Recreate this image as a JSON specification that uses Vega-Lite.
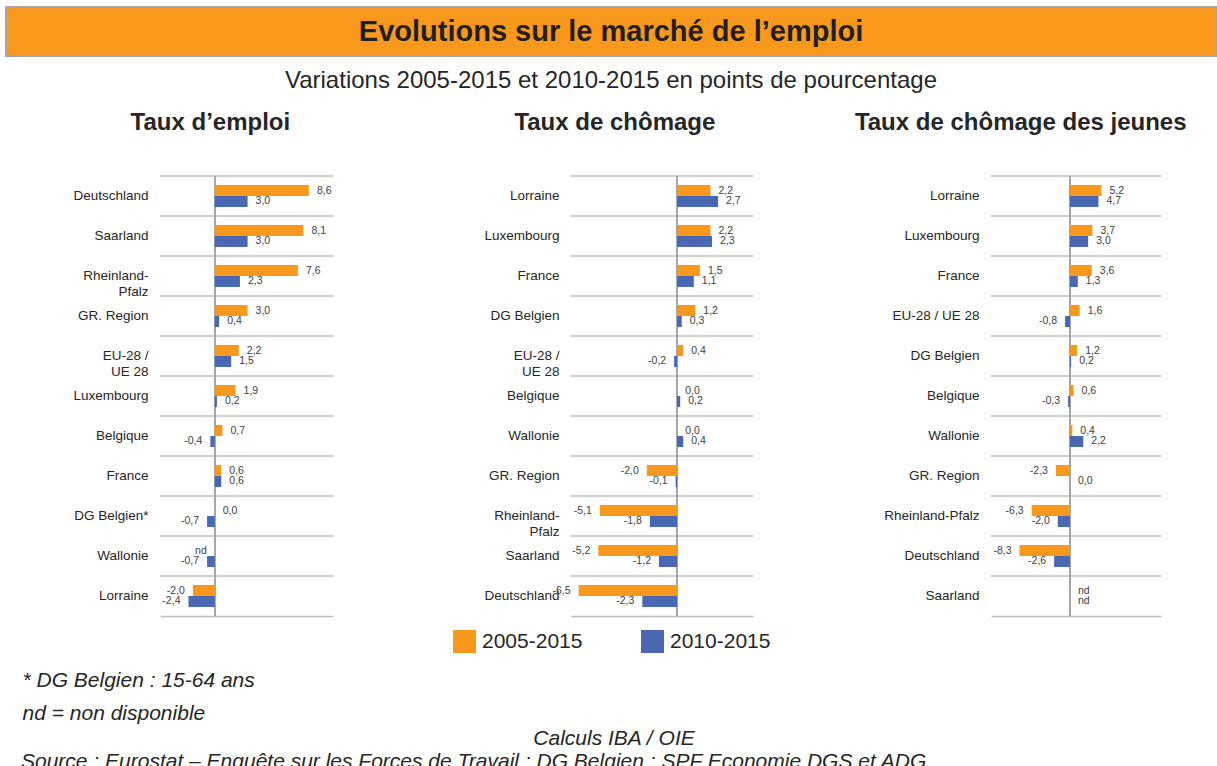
{
  "$schema": "https://vega.github.io/schema/vega-lite/v6.json",
  "background": "white",
  "padding": {"left": 5, "top": 6, "right": 0, "bottom": 0},
  "config": {
    "font": "Liberation Sans",
    "view": {"stroke": null},
    "legend": {"orient": "none", "legendX": 447, "legendY": 623, "direction": "horizontal", "title": null, "symbolType": "square", "symbolSize": 529, "symbolStrokeWidth": 0, "labelFontSize": 21, "labelColor": "#262626", "labelOffset": 6, "columnPadding": 58, "padding": 0, "labelFont": "Liberation Sans"}
  },
  "datasets": {
    "emploi": [
      {"region": "Deutschland", "series": "2005-2015", "v": 8.6, "label": "8,6"},
      {"region": "Deutschland", "series": "2010-2015", "v": 3.0, "label": "3,0"},
      {"region": "Saarland", "series": "2005-2015", "v": 8.1, "label": "8,1"},
      {"region": "Saarland", "series": "2010-2015", "v": 3.0, "label": "3,0"},
      {"region": "Rheinland-Pfalz", "series": "2005-2015", "v": 7.6, "label": "7,6"},
      {"region": "Rheinland-Pfalz", "series": "2010-2015", "v": 2.3, "label": "2,3"},
      {"region": "GR. Region", "series": "2005-2015", "v": 3.0, "label": "3,0"},
      {"region": "GR. Region", "series": "2010-2015", "v": 0.4, "label": "0,4"},
      {"region": "EU-28 / UE 28", "series": "2005-2015", "v": 2.2, "label": "2,2"},
      {"region": "EU-28 / UE 28", "series": "2010-2015", "v": 1.5, "label": "1,5"},
      {"region": "Luxembourg", "series": "2005-2015", "v": 1.9, "label": "1,9"},
      {"region": "Luxembourg", "series": "2010-2015", "v": 0.2, "label": "0,2"},
      {"region": "Belgique", "series": "2005-2015", "v": 0.7, "label": "0,7"},
      {"region": "Belgique", "series": "2010-2015", "v": -0.4, "label": "-0,4"},
      {"region": "France", "series": "2005-2015", "v": 0.6, "label": "0,6"},
      {"region": "France", "series": "2010-2015", "v": 0.6, "label": "0,6"},
      {"region": "DG Belgien*", "series": "2005-2015", "v": 0.0, "label": "0,0"},
      {"region": "DG Belgien*", "series": "2010-2015", "v": -0.7, "label": "-0,7"},
      {"region": "Wallonie", "series": "2005-2015", "v": null, "label": "nd"},
      {"region": "Wallonie", "series": "2010-2015", "v": -0.7, "label": "-0,7"},
      {"region": "Lorraine", "series": "2005-2015", "v": -2.0, "label": "-2,0"},
      {"region": "Lorraine", "series": "2010-2015", "v": -2.4, "label": "-2,4"}
    ],
    "chomage": [
      {"region": "Lorraine", "series": "2005-2015", "v": 2.2, "label": "2,2"},
      {"region": "Lorraine", "series": "2010-2015", "v": 2.7, "label": "2,7"},
      {"region": "Luxembourg", "series": "2005-2015", "v": 2.2, "label": "2,2"},
      {"region": "Luxembourg", "series": "2010-2015", "v": 2.3, "label": "2,3"},
      {"region": "France", "series": "2005-2015", "v": 1.5, "label": "1,5"},
      {"region": "France", "series": "2010-2015", "v": 1.1, "label": "1,1"},
      {"region": "DG Belgien", "series": "2005-2015", "v": 1.2, "label": "1,2"},
      {"region": "DG Belgien", "series": "2010-2015", "v": 0.3, "label": "0,3"},
      {"region": "EU-28 / UE 28", "series": "2005-2015", "v": 0.4, "label": "0,4"},
      {"region": "EU-28 / UE 28", "series": "2010-2015", "v": -0.2, "label": "-0,2"},
      {"region": "Belgique", "series": "2005-2015", "v": 0.0, "label": "0,0"},
      {"region": "Belgique", "series": "2010-2015", "v": 0.2, "label": "0,2"},
      {"region": "Wallonie", "series": "2005-2015", "v": 0.0, "label": "0,0"},
      {"region": "Wallonie", "series": "2010-2015", "v": 0.4, "label": "0,4"},
      {"region": "GR. Region", "series": "2005-2015", "v": -2.0, "label": "-2,0"},
      {"region": "GR. Region", "series": "2010-2015", "v": -0.1, "label": "-0,1"},
      {"region": "Rheinland-Pfalz", "series": "2005-2015", "v": -5.1, "label": "-5,1"},
      {"region": "Rheinland-Pfalz", "series": "2010-2015", "v": -1.8, "label": "-1,8"},
      {"region": "Saarland", "series": "2005-2015", "v": -5.2, "label": "-5,2"},
      {"region": "Saarland", "series": "2010-2015", "v": -1.2, "label": "-1,2"},
      {"region": "Deutschland", "series": "2005-2015", "v": -6.5, "label": "-6,5"},
      {"region": "Deutschland", "series": "2010-2015", "v": -2.3, "label": "-2,3"}
    ],
    "jeunes": [
      {"region": "Lorraine", "series": "2005-2015", "v": 5.2, "label": "5,2"},
      {"region": "Lorraine", "series": "2010-2015", "v": 4.7, "label": "4,7"},
      {"region": "Luxembourg", "series": "2005-2015", "v": 3.7, "label": "3,7"},
      {"region": "Luxembourg", "series": "2010-2015", "v": 3.0, "label": "3,0"},
      {"region": "France", "series": "2005-2015", "v": 3.6, "label": "3,6"},
      {"region": "France", "series": "2010-2015", "v": 1.3, "label": "1,3"},
      {"region": "EU-28 / UE 28", "series": "2005-2015", "v": 1.6, "label": "1,6"},
      {"region": "EU-28 / UE 28", "series": "2010-2015", "v": -0.8, "label": "-0,8"},
      {"region": "DG Belgien", "series": "2005-2015", "v": 1.2, "label": "1,2"},
      {"region": "DG Belgien", "series": "2010-2015", "v": 0.2, "label": "0,2"},
      {"region": "Belgique", "series": "2005-2015", "v": 0.6, "label": "0,6"},
      {"region": "Belgique", "series": "2010-2015", "v": -0.3, "label": "-0,3"},
      {"region": "Wallonie", "series": "2005-2015", "v": 0.4, "label": "0,4"},
      {"region": "Wallonie", "series": "2010-2015", "v": 2.2, "label": "2,2"},
      {"region": "GR. Region", "series": "2005-2015", "v": -2.3, "label": "-2,3"},
      {"region": "GR. Region", "series": "2010-2015", "v": 0.0, "label": "0,0"},
      {"region": "Rheinland-Pfalz", "series": "2005-2015", "v": -6.3, "label": "-6,3"},
      {"region": "Rheinland-Pfalz", "series": "2010-2015", "v": -2.0, "label": "-2,0"},
      {"region": "Deutschland", "series": "2005-2015", "v": -8.3, "label": "-8,3"},
      {"region": "Deutschland", "series": "2010-2015", "v": -2.6, "label": "-2,6"},
      {"region": "Saarland", "series": "2005-2015", "v": null, "label": "nd"},
      {"region": "Saarland", "series": "2010-2015", "v": null, "label": "nd"}
    ]
  },
  "title": {"text": "Source : Eurostat – Enquête sur les Forces de Travail ; DG Belgien : SPF Economie DGS et ADG", "orient": "bottom", "anchor": "start", "fontSize": 21, "fontStyle": "italic", "fontWeight": "normal", "color": "#262626", "dx": 16, "offset": 2},
  "columns": 1,
  "align": "none",
  "bounds": "full",
  "spacing": 17,
  "concat": [
    {
      "width": 1210,
      "height": 49,
      "view": {"fill": "#F8991D", "stroke": "#A6A6A6", "strokeWidth": 2},
      "title": {"text": "Variations 2005-2015 et 2010-2015 en points de pourcentage", "orient": "bottom", "anchor": "middle", "fontSize": 24, "fontWeight": "normal", "color": "#262626", "offset": 13},
      "data": {"values": [{"t": "Evolutions sur le marché de l’emploi"}]},
      "mark": {"type": "text", "fontSize": 29, "fontWeight": "bold", "color": "#231F20"},
      "encoding": {"text": {"field": "t", "type": "nominal"}}
    },
    {
      "bounds": "full",
      "spacing": 7,
      "hconcat": [
        {
          "width": 59,
          "height": 440,
          "view": {"fill": "#FFFFFF"},
          "data": {"values": []},
          "mark": {"type": "point", "opacity": 0}
        },
        {
          "bounds": "flush",
          "spacing": 238,
          "hconcat": [
            {
              "width": 173,
              "height": 440,
              "title": {"text": "Taux d’emploi", "fontSize": 24, "fontWeight": "bold", "color": "#262626", "anchor": "middle", "frame": "bounds", "offset": 40, "dx": 7},
              "data": {"name": "emploi"},
              "layer": [
                {
                  "transform": [{"filter": "datum.series == '2005-2015'"}],
                  "mark": {"type": "rule", "color": "#BFBFBF", "strokeWidth": 1.5},
                  "encoding": {"y": {"field": "region", "type": "nominal", "sort": null, "bandPosition": 0}}
                },
                {
                  "mark": {"type": "rule", "color": "#A6A6A6", "strokeWidth": 1.5},
                  "encoding": {"x": {"datum": 0}}
                },
                {
                  "mark": {"type": "bar"},
                  "encoding": {
                    "y": {"field": "region", "type": "nominal", "sort": null, "scale": {"paddingInner": 0, "paddingOuter": 0},
                      "axis": {"title": null, "domain": false, "ticks": false, "grid": false, "labelFontSize": 13.5, "labelColor": "#262626", "labelPadding": 12, "labelLineHeight": 15.5, "labelExpr": "datum.label == 'Rheinland-Pfalz' ? ['Rheinland-', 'Pfalz'] : datum.label == 'EU-28 / UE 28' ? ['EU-28 /', 'UE 28'] : datum.label"}},
                    "x": {"field": "v", "type": "quantitative", "scale": {"domain": [-5, 10.8], "nice": false, "zero": false},
                      "axis": {"title": null, "labels": false, "ticks": false, "grid": false, "domain": true, "domainColor": "#BFBFBF", "domainWidth": 1.5}},
                    "yOffset": {"field": "series", "type": "nominal", "sort": ["2005-2015", "2010-2015"], "scale": {"paddingInner": 0, "paddingOuter": 0.82}},
                    "color": {"field": "series", "type": "nominal", "scale": {"domain": ["2005-2015", "2010-2015"], "range": ["#F8991D", "#4A68B2"]}}
                  }
                },
                {
                  "transform": [{"filter": "isValid(datum.v) && datum.v >= 0"}],
                  "mark": {"type": "text", "align": "left", "dx": 8, "fontSize": 10.5, "color": "#404040"},
                  "encoding": {
                    "y": {"field": "region", "type": "nominal", "sort": null},
                    "x": {"field": "v", "type": "quantitative"},
                    "yOffset": {"field": "series", "type": "nominal", "sort": ["2005-2015", "2010-2015"]},
                    "text": {"field": "label"}
                  }
                },
                {
                  "transform": [{"filter": "isValid(datum.v) && datum.v < 0"}],
                  "mark": {"type": "text", "align": "right", "dx": -8, "fontSize": 10.5, "color": "#404040"},
                  "encoding": {
                    "y": {"field": "region", "type": "nominal", "sort": null},
                    "x": {"field": "v", "type": "quantitative"},
                    "yOffset": {"field": "series", "type": "nominal", "sort": ["2005-2015", "2010-2015"]},
                    "text": {"field": "label"}
                  }
                },
                {
                  "transform": [{"filter": "datum.label == 'nd'"}],
                  "mark": {"type": "text", "align": "right", "dx": -8, "fontSize": 10.5, "color": "#404040"},
                  "encoding": {
                    "y": {"field": "region", "type": "nominal", "sort": null},
                    "x": {"datum": 0},
                    "yOffset": {"field": "series", "type": "nominal", "sort": ["2005-2015", "2010-2015"]},
                    "text": {"field": "label"}
                  }
                }
              ]
            },
            {
              "width": 182,
              "height": 440,
              "title": {"text": "Taux de chômage", "fontSize": 24, "fontWeight": "bold", "color": "#262626", "anchor": "middle", "frame": "bounds", "offset": 40, "dx": -4},
              "data": {"name": "chomage"},
              "layer": [
                {
                  "transform": [{"filter": "datum.series == '2005-2015'"}],
                  "mark": {"type": "rule", "color": "#BFBFBF", "strokeWidth": 1.5},
                  "encoding": {"y": {"field": "region", "type": "nominal", "sort": null, "bandPosition": 0}}
                },
                {
                  "mark": {"type": "rule", "color": "#A6A6A6", "strokeWidth": 1.5},
                  "encoding": {"x": {"datum": 0}}
                },
                {
                  "mark": {"type": "bar"},
                  "encoding": {
                    "y": {"field": "region", "type": "nominal", "sort": null, "scale": {"paddingInner": 0, "paddingOuter": 0},
                      "axis": {"title": null, "domain": false, "ticks": false, "grid": false, "labelFontSize": 13.5, "labelColor": "#262626", "labelPadding": 12, "labelLineHeight": 15.5, "labelExpr": "datum.label == 'Rheinland-Pfalz' ? ['Rheinland-', 'Pfalz'] : datum.label == 'EU-28 / UE 28' ? ['EU-28 /', 'UE 28'] : datum.label"}},
                    "x": {"field": "v", "type": "quantitative", "scale": {"domain": [-7, 5], "nice": false, "zero": false},
                      "axis": {"title": null, "labels": false, "ticks": false, "grid": false, "domain": true, "domainColor": "#BFBFBF", "domainWidth": 1.5}},
                    "yOffset": {"field": "series", "type": "nominal", "sort": ["2005-2015", "2010-2015"], "scale": {"paddingInner": 0, "paddingOuter": 0.38}},
                    "color": {"field": "series", "type": "nominal", "scale": {"domain": ["2005-2015", "2010-2015"], "range": ["#F8991D", "#4A68B2"]}}
                  }
                },
                {
                  "transform": [{"filter": "isValid(datum.v) && datum.v >= 0"}],
                  "mark": {"type": "text", "align": "left", "dx": 8, "fontSize": 10.5, "color": "#404040"},
                  "encoding": {
                    "y": {"field": "region", "type": "nominal", "sort": null},
                    "x": {"field": "v", "type": "quantitative"},
                    "yOffset": {"field": "series", "type": "nominal", "sort": ["2005-2015", "2010-2015"]},
                    "text": {"field": "label"}
                  }
                },
                {
                  "transform": [{"filter": "isValid(datum.v) && datum.v < 0"}],
                  "mark": {"type": "text", "align": "right", "dx": -8, "fontSize": 10.5, "color": "#404040"},
                  "encoding": {
                    "y": {"field": "region", "type": "nominal", "sort": null},
                    "x": {"field": "v", "type": "quantitative"},
                    "yOffset": {"field": "series", "type": "nominal", "sort": ["2005-2015", "2010-2015"]},
                    "text": {"field": "label"}
                  }
                }
              ]
            },
            {
              "width": 170,
              "height": 440,
              "title": {"text": "Taux de chômage des jeunes", "fontSize": 24, "fontWeight": "bold", "color": "#262626", "anchor": "middle", "frame": "bounds", "offset": 40, "dx": -2},
              "data": {"name": "jeunes"},
              "layer": [
                {
                  "transform": [{"filter": "datum.series == '2005-2015'"}],
                  "mark": {"type": "rule", "color": "#BFBFBF", "strokeWidth": 1.5},
                  "encoding": {"y": {"field": "region", "type": "nominal", "sort": null, "bandPosition": 0}}
                },
                {
                  "mark": {"type": "rule", "color": "#A6A6A6", "strokeWidth": 1.5},
                  "encoding": {"x": {"datum": 0}}
                },
                {
                  "mark": {"type": "bar"},
                  "encoding": {
                    "y": {"field": "region", "type": "nominal", "sort": null, "scale": {"paddingInner": 0, "paddingOuter": 0},
                      "axis": {"title": null, "domain": false, "ticks": false, "grid": false, "labelFontSize": 13.5, "labelColor": "#262626", "labelPadding": 12}},
                    "x": {"field": "v", "type": "quantitative", "scale": {"domain": [-13, 15], "nice": false, "zero": false},
                      "axis": {"title": null, "labels": false, "ticks": false, "grid": false, "domain": true, "domainColor": "#BFBFBF", "domainWidth": 1.5}},
                    "yOffset": {"field": "series", "type": "nominal", "sort": ["2005-2015", "2010-2015"], "scale": {"paddingInner": 0, "paddingOuter": 0.38}},
                    "color": {"field": "series", "type": "nominal", "scale": {"domain": ["2005-2015", "2010-2015"], "range": ["#F8991D", "#4A68B2"]}}
                  }
                },
                {
                  "transform": [{"filter": "isValid(datum.v) && datum.v >= 0"}],
                  "mark": {"type": "text", "align": "left", "dx": 8, "fontSize": 10.5, "color": "#404040"},
                  "encoding": {
                    "y": {"field": "region", "type": "nominal", "sort": null},
                    "x": {"field": "v", "type": "quantitative"},
                    "yOffset": {"field": "series", "type": "nominal", "sort": ["2005-2015", "2010-2015"]},
                    "text": {"field": "label"}
                  }
                },
                {
                  "transform": [{"filter": "isValid(datum.v) && datum.v < 0"}],
                  "mark": {"type": "text", "align": "right", "dx": -8, "fontSize": 10.5, "color": "#404040"},
                  "encoding": {
                    "y": {"field": "region", "type": "nominal", "sort": null},
                    "x": {"field": "v", "type": "quantitative"},
                    "yOffset": {"field": "series", "type": "nominal", "sort": ["2005-2015", "2010-2015"]},
                    "text": {"field": "label"}
                  }
                },
                {
                  "transform": [{"filter": "datum.label == 'nd'"}],
                  "mark": {"type": "text", "align": "left", "dx": 8, "fontSize": 10.5, "color": "#404040"},
                  "encoding": {
                    "y": {"field": "region", "type": "nominal", "sort": null},
                    "x": {"datum": 0},
                    "yOffset": {"field": "series", "type": "nominal", "sort": ["2005-2015", "2010-2015"]},
                    "text": {"field": "label"}
                  }
                }
              ]
            }
          ]
        }
      ]
    },
    {
      "width": 1210,
      "height": 35,
      "title": {"text": "Calculs IBA / OIE", "orient": "bottom", "anchor": "middle", "fontSize": 21, "fontStyle": "italic", "fontWeight": "normal", "color": "#262626", "offset": 5, "dx": 3},
      "data": {"values": []},
      "mark": {"type": "point", "opacity": 0},
      "encoding": {
        "x": {"field": "v", "type": "quantitative", "scale": {"domain": [0, 1]},
          "axis": {"orient": "bottom", "labels": false, "ticks": false, "domain": false, "grid": false, "title": ["* DG Belgien : 15-64 ans", "nd = non disponible"], "titleAnchor": "start", "titleAlign": "left", "titleX": 16, "titleFontSize": 21, "titleFontStyle": "italic", "titleFontWeight": "normal", "titleLineHeight": 33, "titleColor": "#262626", "titlePadding": 0}}
      }
    }
  ]
}
